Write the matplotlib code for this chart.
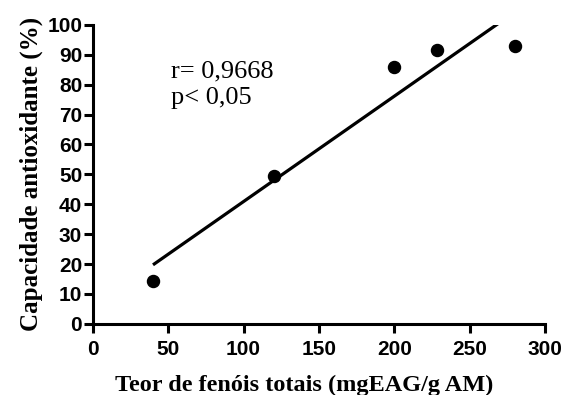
import matplotlib.pyplot as plt
import numpy as np

# Data
fenois = [40, 120, 200, 228, 280]          # mgEAG/g AM
capacidade = [14.2, 49.6, 86.0, 91.5, 93.0]  # %
x_ticks = [0, 50, 100, 150, 200, 250, 300]
y_ticks = [0, 10, 20, 30, 40, 50, 60, 70, 80, 90, 100]

# Linear regression
slope, intercept = np.polyfit(fenois, capacidade, 1)
x_fit = np.array([fenois[0], fenois[-1]])
y_fit = slope * x_fit + intercept

fig = plt.figure(figsize=(5.65, 3.95), dpi=100)
ax = fig.add_axes([0.164, 0.18, 0.801, 0.757])

ax.plot(x_fit, y_fit, color='black', lw=2.3, solid_capstyle='butt')
ax.scatter(fenois, capacidade, s=75, color='black', zorder=3, clip_on=False)

ax.set_xlim(0, 300)
ax.set_ylim(0, 100)
ax.set_xticks(x_ticks)
ax.set_yticks(y_ticks)

for s in ['top', 'right']:
    ax.spines[s].set_visible(False)
for s in ['left', 'bottom']:
    ax.spines[s].set_linewidth(2.2)
ax.tick_params(width=2.2, length=6.5, direction='out')
ax.tick_params(axis='y', pad=1)
ax.tick_params(axis='x', pad=5)

for lbl in ax.get_xticklabels() + ax.get_yticklabels():
    lbl.set_family('Liberation Sans')
    lbl.set_fontweight('bold')
    lbl.set_fontsize(15)

ax.set_xlabel('Teor de fenóis totais (mgEAG/g AM)', family='Liberation Serif',
              fontweight='bold', fontsize=17.5)
ax.xaxis.set_label_coords(0.468, -0.17)
ax.set_ylabel('Capacidade antioxidante (%)', family='Liberation Serif',
              fontweight='bold', fontsize=18, labelpad=3)

ax.text(52, 88, 'r= 0,9668\np< 0,05', family='Liberation Serif', fontsize=19,
        va='top', ha='left', linespacing=1.25)

plt.savefig('out.png', dpi=100)
